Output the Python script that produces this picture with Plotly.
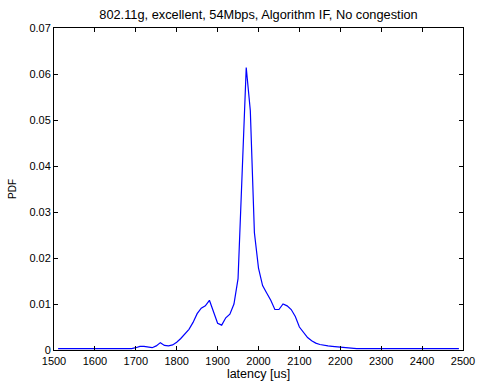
import plotly.graph_objects as go

latency = list(range(1510, 2500, 10))
pdf = [
    0.0003, 0.0003, 0.0003, 0.0003, 0.0003, 0.0003, 0.0003, 0.0003, 0.0003, 0.0003,  # 1510-1600
    0.0003, 0.0003, 0.0003, 0.0003, 0.0003, 0.0003, 0.0003, 0.0003, 0.0003,          # 1610-1690
    0.0005, 0.0008, 0.0008, 0.0006, 0.0005, 0.0009, 0.0016, 0.0010, 0.0009, 0.0011,  # 1700-1790
    0.0017, 0.0025, 0.0036, 0.0045, 0.0060, 0.0079, 0.0091, 0.0096, 0.0108, 0.0084,  # 1800-1890
    0.0058, 0.0054, 0.0070, 0.0078, 0.0100, 0.0155, 0.0370, 0.0614, 0.0520, 0.0255,  # 1900-1990
    0.0178, 0.0140, 0.0124, 0.0108, 0.0088, 0.0088, 0.0100, 0.0096, 0.0088, 0.0073,  # 2000-2090
    0.0050, 0.0038, 0.0027, 0.0020, 0.0015, 0.0012, 0.0010, 0.0009, 0.0008, 0.0007,  # 2100-2190
    0.0006, 0.0005, 0.0004, 0.0003, 0.0003, 0.0003, 0.0003, 0.0003, 0.0003, 0.0003,  # 2200-2290
    0.0003, 0.0003, 0.0003, 0.0003, 0.0003, 0.0003, 0.0003, 0.0003, 0.0003, 0.0003,  # 2300-2390
    0.0003, 0.0003, 0.0003, 0.0003, 0.0003, 0.0003, 0.0003, 0.0003, 0.0003, 0.0003,  # 2400-2490
]

x_ticks = list(range(1500, 2501, 100))
y_ticks = [0, 0.01, 0.02, 0.03, 0.04, 0.05, 0.06, 0.07]
y_tick_text = ["0", "0.01", "0.02", "0.03", "0.04", "0.05", "0.06", "0.07"]

title_text = "802.11g, excellent, 54Mbps, Algorithm IF, No congestion"
x_title = "latency [us]"
y_title = "PDF"

font_family = "Liberation Sans, Arial, sans-serif"

fig = go.Figure()
fig.add_trace(go.Scatter(x=latency, y=pdf, mode="lines",
                         line=dict(color="#0000ff", width=1.2), showlegend=False))

axis_common = dict(showline=True, linecolor="black", linewidth=1, mirror="ticks",
                   ticks="inside", ticklen=4, tickcolor="black", tickwidth=1,
                   showgrid=False, zeroline=False, automargin=False,
                   tickfont=dict(family=font_family, size=11, color="black"))

fig.update_layout(
    width=479, height=384,
    margin=dict(l=54, r=16, t=28, b=34, autoexpand=False),
    paper_bgcolor="white", plot_bgcolor="white",
    title=dict(text=title_text, xref="paper", x=0.5, xanchor="center",
               yref="container", y=1 - 15 / 384, yanchor="middle",
               font=dict(family=font_family, size=12.8, color="black")),
    xaxis=dict(range=[1500, 2500], tickvals=x_ticks, ticklabelstandoff=1,
               title=dict(text=x_title, standoff=3,
                          font=dict(family=font_family, size=12.5, color="black")),
               **axis_common),
    yaxis=dict(range=[0, 0.07], tickvals=y_ticks, ticktext=y_tick_text,
               title=dict(text=y_title, standoff=10,
                          font=dict(family=font_family, size=10, color="black")),
               **axis_common),
)

fig.write_html("out.html")
